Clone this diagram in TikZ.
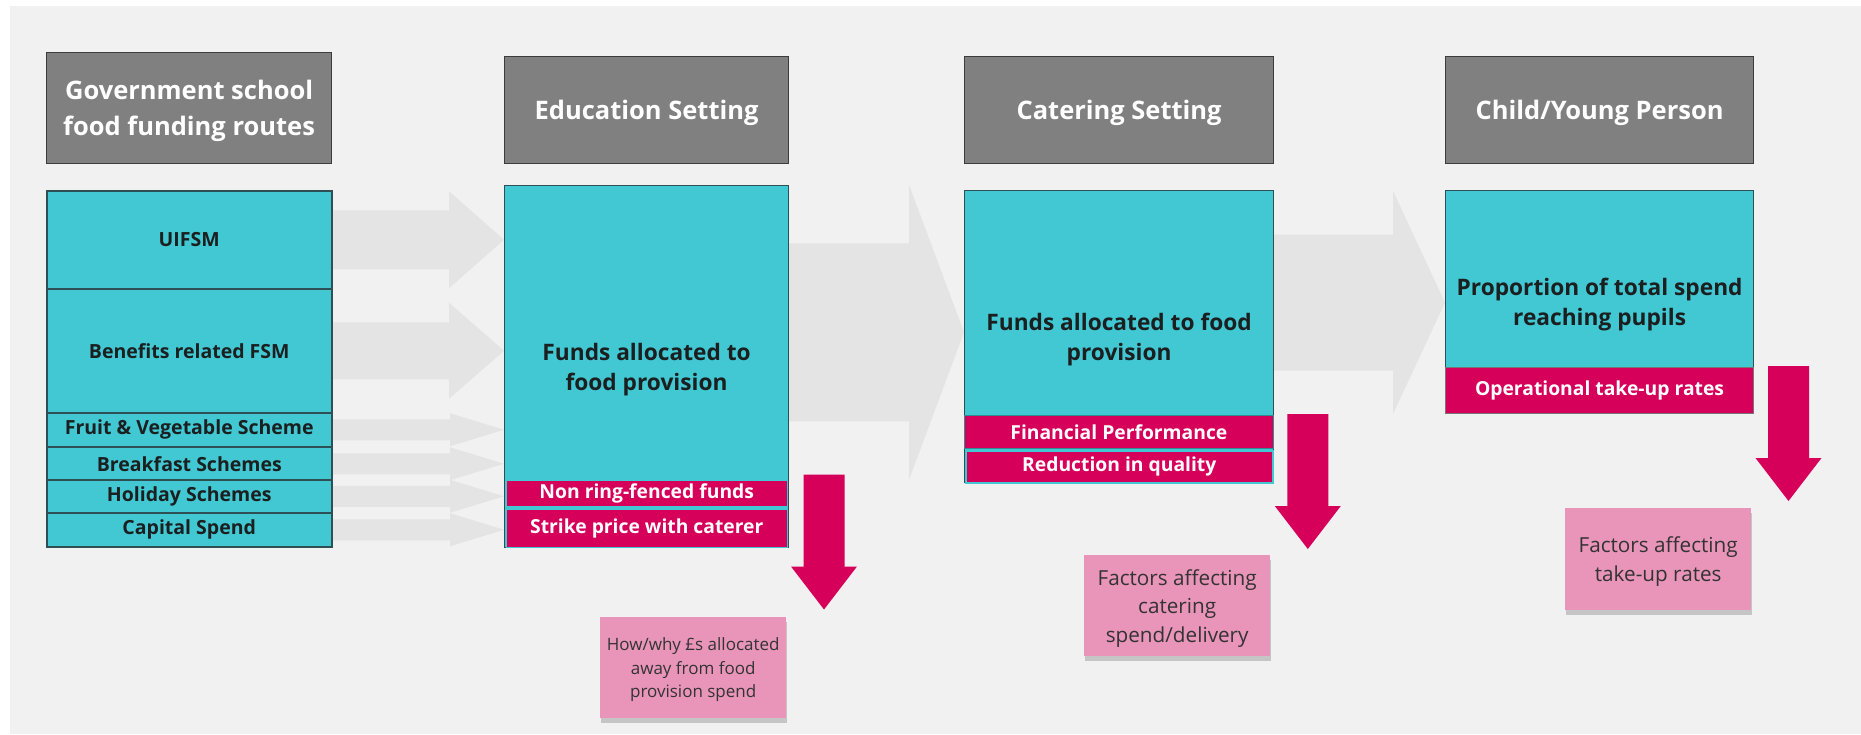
\documentclass[tikz,border=0pt]{standalone}
\usepackage{fontspec}
\setmainfont{Open Sans}
\usetikzlibrary{calc,shadows,backgrounds}
\definecolor{bggrey}{HTML}{F1F1F1}
\definecolor{headgrey}{HTML}{808080}
\definecolor{headline}{HTML}{3C3C3C}
\definecolor{fundcyan}{HTML}{41C8D3}
\definecolor{cyanline}{HTML}{2E4F53}
\definecolor{alertred}{HTML}{D6005B}
\definecolor{stickypink}{HTML}{E995BA}
\definecolor{stickytext}{HTML}{333333}
\definecolor{flowgrey}{HTML}{E4E4E4}
\definecolor{inktext}{HTML}{1B1F20}
\tikzset{
  head/.style={draw=headline,line width=1.2pt,fill=headgrey,text=white,align=center,text depth=-3pt,
    font=\bfseries\fontsize{25.5}{36}\selectfont,anchor=north west,inner sep=0pt,minimum height=107pt},
  route/.style={draw=cyanline,line width=1.5pt,fill=fundcyan,text=inktext,
    font=\bfseries\fontsize{19.5}{24}\selectfont,anchor=north west,inner sep=0pt,minimum width=285pt},
  fund/.style={draw=cyanline,line width=1.2pt,fill=fundcyan,text=inktext,align=center,text depth=-2pt,
    font=\bfseries\fontsize{22.7}{30}\selectfont,anchor=north west,inner sep=0pt},
  factor/.style={fill=alertred,draw=fundcyan,line width=1.5pt,text=white,
    font=\bfseries\fontsize{19.3}{24}\selectfont,anchor=north west,inner sep=0pt},
  sticky/.style={fill=stickypink,text=stickytext,align=center,anchor=north west,inner sep=0pt,text depth=-1pt,
    minimum width=186pt,drop shadow={shadow xshift=1pt,shadow yshift=-5pt,fill=black,opacity=0.18}},
}
% grey flow arrow from a point to the west side of a node
\newcommand\flowarrow[5]{%
  \fill[flowgrey] let \p1=#1, \p2=(#2.west) in
    (\x1,\y1+#3pt) -- (\x2-#5pt,\y1+#3pt) -- (\x2-#5pt,\y1+#4pt) -- (\x2,\y1)
    -- (\x2-#5pt,\y1-#4pt) -- (\x2-#5pt,\y1-#3pt) -- (\x1,\y1-#3pt) -- cycle;}
% red arrow pointing down
\newcommand\droparrow[2]{%
  \fill[alertred] let \p1=(#1), \p2=(#2) in
    (\x1-20.5pt,\y1) -- (\x1+20.5pt,\y1) -- (\x1+20.5pt,\y2+43pt) -- (\x1+33pt,\y2+43pt)
    -- (\x2,\y2) -- (\x1-33pt,\y2+43pt) -- (\x1-20.5pt,\y2+43pt) -- cycle;}
\begin{document}
\begin{tikzpicture}[x=1pt,y=-1pt]
\useasboundingbox (0,0) rectangle (1861,734);
% headers
\node [head,minimum width=285pt,minimum height=111pt,name=govhead] at (46,52) {Government school\\food funding routes};
\node [head,minimum width=284pt,name=eduhead] at (504,56) {Education Setting};
\node [head,minimum width=309pt,name=cathead] at (964,56) {Catering Setting};
\node [head,minimum width=308pt,name=childhead] at (1445,56) {Child/Young Person};
% funding routes
\node [route,minimum height=98pt,name=uifsm] at (46,190) {UIFSM};
\node [route,minimum height=124pt,name=fsm] at (46,288) {Benefits related FSM};
\node [route,minimum height=34pt,name=fruit] at (46,412) {Fruit \& Vegetable Scheme};
\node [route,minimum height=34pt,name=breakfast] at (46,446) {Breakfast Schemes};
\node [route,minimum height=33pt,name=holiday] at (46,479) {Holiday Schemes};
\node [route,minimum height=34pt,name=capital] at (46,512) {Capital Spend};
% settings
\node [fund,minimum width=284pt,minimum height=362pt,name=edufunds] at (504,185) {Funds allocated to\\food provision};
\node [factor,minimum width=281pt,minimum height=26pt,name=nonring] at (505.5,479.5) {Non ring-fenced funds};
\node [factor,minimum width=281pt,minimum height=38pt,name=strike] at (505.5,508.5) {Strike price with caterer};
\node [fund,minimum width=309pt,minimum height=292pt,name=catfunds] at (964,190) {Funds allocated to food\\provision};
\node [factor,minimum width=309pt,minimum height=33pt,draw=fundcyan!70!black,line width=0.8pt,name=finperf] at (964,415) {Financial Performance};
\node [factor,minimum width=307pt,minimum height=32pt,name=quality] at (965,450) {Reduction in quality};
\node [fund,minimum width=308pt,minimum height=223pt,name=childfunds] at (1445,190) {Proportion of total spend\\reaching pupils};
\node [factor,minimum width=308pt,minimum height=46pt,draw=headline!70,line width=1pt,name=optake] at (1445,367) {Operational take-up rates};
% notes
\node [sticky,minimum height=101pt,font=\fontsize{17}{23.5}\selectfont,name=eduwhy] at (600,617) {How/why £s allocated\\away from food\\provision spend};
\node [sticky,minimum height=101pt,font=\fontsize{20.7}{28.5}\selectfont,name=catwhy] at (1084,555) {Factors affecting\\catering\\spend/delivery};
\node [sticky,minimum height=102pt,font=\fontsize{20.7}{29.5}\selectfont,name=takeup] at (1565,508) {Factors affecting\\take-up rates};
\coordinate (edudrop) at ($(nonring.north east)+(36,-5)$);
\coordinate (edudropend) at ($(edudrop)+(0,135)$);
\coordinate (catdrop) at ($(finperf.north east)+(34,-1)$);
\coordinate (catdropend) at ($(catdrop)+(0,135)$);
\coordinate (childdrop) at ($(optake.north east)+(34.5,-1)$);
\coordinate (childdropend) at ($(childdrop)+(0,135)$);
\droparrow{edudrop}{edudropend}
\droparrow{catdrop}{catdropend}
\droparrow{childdrop}{childdropend}
\begin{pgfonlayer}{background}
\fill[white] (0,0) rectangle (1861,734);
\fill[bggrey] (10,6) rectangle (1861,734);
\flowarrow{(uifsm.east)}{edufunds}{29.5}{48.5}{55}
\flowarrow{(fsm.east)}{edufunds}{28.5}{48}{55}
\flowarrow{(fruit.east)}{edufunds}{10.5}{16.5}{54}
\flowarrow{(breakfast.east)}{edufunds}{10.5}{16.5}{54}
\flowarrow{(holiday.east)}{edufunds}{10.5}{16.5}{54}
\flowarrow{(capital.east)}{edufunds}{10.5}{16.5}{54}
\flowarrow{($(edufunds.north east)!0.5!(edufunds.north east |- nonring.north)$)}{catfunds}{89}{147.5}{55}
\flowarrow{($(catfunds.north east)!0.5!(catfunds.north east |- finperf.north)$)}{childfunds}{68}{111.5}{52}
\end{pgfonlayer}
\end{tikzpicture}
\end{document}
